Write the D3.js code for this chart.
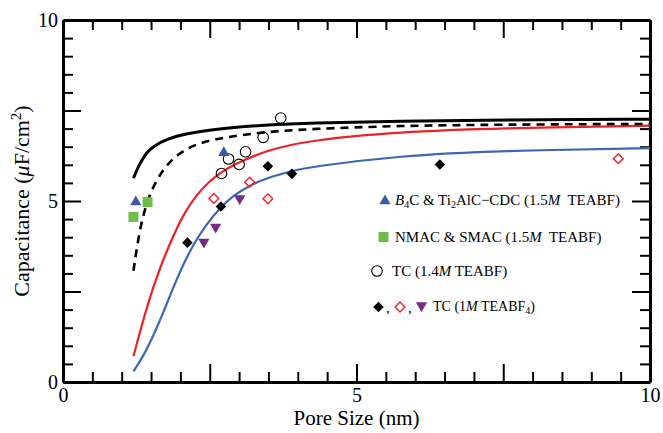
<!DOCTYPE html>
<html>
<head>
<meta charset="utf-8">
<script src="https://cdn.jsdelivr.net/npm/d3@7"></script>
<style>
  body { margin: 0; background: #fff; }
  svg { font-family: "Liberation Serif", "Times New Roman", serif; }
</style>
</head>
<body>
<svg id="chart" width="663" height="433"></svg>
<script>
// model curves as [pore size nm, capacitance]
var solidCurve = [[1.2,5.63],[1.31,6.05],[1.42,6.33],[1.54,6.51],[1.76,6.71],[2.1,6.86],[2.44,6.95],
  [2.9,7.03],[3.46,7.1],[4.2,7.15],[5.73,7.21],[7.43,7.24],[10,7.26]];
var dashedCurve = [[1.2,3.07],[1.32,4.38],[1.48,5.23],[1.68,5.82],[1.88,6.19],[2.1,6.44],[2.33,6.6],
  [2.61,6.71],[2.89,6.79],[3.46,6.91],[4.2,6.99],[5.73,7.08],[7.43,7.11],[10,7.13]];
var redCurve = [[1.2,0.71],[1.37,1.74],[1.54,2.65],[1.71,3.39],[1.88,4.05],[2.05,4.62],[2.27,5.17],
  [2.5,5.55],[2.67,5.77],[2.9,6.0],[3.46,6.4],[4.2,6.68],[5.73,6.91],[7.43,7.01],[10,7.08]];
var blueCurve = [[1.2,0.29],[1.37,0.72],[1.54,1.28],[1.71,1.92],[1.88,2.62],[2.05,3.25],[2.22,3.8],
  [2.44,4.35],[2.67,4.8],[2.9,5.15],[3.18,5.43],[3.46,5.63],[3.9,5.83],[4.2,5.94],[5.73,6.25],
  [7.43,6.39],[10,6.46]];

// measured points
var b4cPts = [[1.24,4.97],[2.74,6.33]];
var nmacPts = [[1.2,4.56],[1.44,4.97]];
var tc14Pts = [[2.7,5.76],[2.82,6.16],[3.0,6.01],[3.11,6.36],[3.41,6.76],[3.71,7.29]];
var tcBlackPts = [[2.12,3.85],[2.69,4.85],[3.49,5.96],[3.9,5.75],[6.42,6.01]];
var tcRedPts = [[2.57,5.07],[3.18,5.52],[3.49,5.06],[9.46,6.17]];
var tcPurplePts = [[2.4,3.87],[2.6,4.28],[3.01,5.07]];

var tickValues = d3.range(0, 10.001, 0.5);
var labelValues = [0, 5, 10];

(function() {
var svg = d3.select("#chart");
var pLeft = 63, pRight = 650, pTop = 20, pBottom = 382;

var x = d3.scaleLinear().domain([0, 10]).range([pLeft, pRight]);
var y = d3.scaleLinear().domain([0, 10]).range([pBottom, pTop]);

var blue = "#3d68b1", red = "#ec2227", purple = "#7a2a86", green = "#6cbd4a", triBlue = "#3b58a5";

function isMajor(v) { return Math.abs(v / 2.5 - Math.round(v / 2.5)) < 1e-6; }
function fmt(v) { return labelValues.indexOf(v) >= 0 ? v : ""; }

function styleAxis(g, horizontal, sign) {
  g.select(".domain").attr("stroke", "#000").attr("stroke-width", 3);
  g.selectAll(".tick line")
    .attr("stroke", "#000").attr("stroke-width", 2)
    .attr(horizontal ? "y2" : "x2", function(d) { return sign * (isMajor(d) ? 18 : 10); });
  g.selectAll(".tick text").attr("font-size", 20).attr("fill", "#000")
    .attr("font-family", "Liberation Serif, serif");
}

svg.append("g").attr("transform", "translate(0," + pBottom + ")")
  .call(d3.axisBottom(x).tickValues(tickValues).tickSizeInner(-10).tickSizeOuter(0).tickPadding(6).tickFormat(fmt))
  .call(styleAxis, true, -1);
svg.append("g").attr("transform", "translate(0," + pTop + ")")
  .call(d3.axisTop(x).tickValues(tickValues).tickSizeInner(-10).tickSizeOuter(0).tickFormat(""))
  .call(styleAxis, true, 1);
svg.append("g").attr("transform", "translate(" + pLeft + ",0)")
  .call(d3.axisLeft(y).tickValues(tickValues).tickSizeInner(-10).tickSizeOuter(0).tickPadding(5).tickFormat(fmt))
  .call(styleAxis, false, 1);
svg.append("g").attr("transform", "translate(" + pRight + ",0)")
  .call(d3.axisRight(y).tickValues(tickValues).tickSizeInner(-10).tickSizeOuter(0).tickFormat(""))
  .call(styleAxis, false, -1);

// axis titles
svg.append("text").attr("x", (pLeft + pRight) / 2).attr("y", 425)
  .attr("text-anchor", "middle").attr("font-size", 21).text("Pore Size (nm)");
var yt = svg.append("text").attr("transform", "translate(29," + (pTop + pBottom) / 2 + ") rotate(-90)")
  .attr("text-anchor", "middle").attr("font-size", 22);
yt.append("tspan").text("Capacitance (");
yt.append("tspan").attr("font-style", "italic").text("\u03bc");
yt.append("tspan").text("F/cm");
yt.append("tspan").attr("dy", -8).attr("font-size", 15).text("2");
yt.append("tspan").attr("dy", 8).text(")");

// curves
var line = d3.line().x(function(d) { return x(d[0]); }).y(function(d) { return y(d[1]); })
  .curve(d3.curveBasis);
var plot = svg.append("g");
plot.append("path").datum(blueCurve).attr("d", line)
  .attr("fill", "none").attr("stroke", blue).attr("stroke-width", 2.2);
plot.append("path").datum(redCurve).attr("d", line)
  .attr("fill", "none").attr("stroke", red).attr("stroke-width", 2.2);
plot.append("path").datum(dashedCurve).attr("d", line)
  .attr("fill", "none").attr("stroke", "#000").attr("stroke-width", 2.6).attr("stroke-dasharray", "8,6");
plot.append("path").datum(solidCurve).attr("d", line)
  .attr("fill", "none").attr("stroke", "#000").attr("stroke-width", 3);

// symbols
var tri = d3.symbol().type(d3.symbolTriangle).size(55);
var sq = d3.symbol().type(d3.symbolSquare).size(100);
var dia = d3.symbol().type(d3.symbolSquare).size(56);
var diaOpen = d3.symbol().type(d3.symbolSquare).size(48);

function pts(data, path, rot, fill, stroke, sw) {
  plot.selectAll(null).data(data).enter().append("path")
    .attr("d", path)
    .attr("transform", function(d) { return "translate(" + x(d[0]) + "," + y(d[1]) + ") rotate(" + rot + ")"; })
    .attr("fill", fill).attr("stroke", stroke || "none").attr("stroke-width", sw || 0);
}

plot.selectAll(null).data(tc14Pts).enter().append("circle")
  .attr("cx", function(d) { return x(d[0]); }).attr("cy", function(d) { return y(d[1]); })
  .attr("r", 5.3).attr("fill", "none").attr("stroke", "#000").attr("stroke-width", 1.1);
pts(b4cPts, tri, 0, triBlue);
pts(nmacPts, sq, 0, green);
pts(tcBlackPts, dia, 45, "#000");
pts(tcRedPts, diaOpen, 45, "none", red, 1.4);
pts(tcPurplePts, tri, 180, purple);

// legend
var leg = svg.append("g").attr("font-size", 15).attr("fill", "#000");
function legSym(path, px, py, rot, fill, stroke, sw) {
  leg.append("path").attr("d", path)
    .attr("transform", "translate(" + px + "," + py + ") rotate(" + rot + ")")
    .attr("fill", fill).attr("stroke", stroke || "none").attr("stroke-width", sw || 0);
}
legSym(tri, 385, 201, 0, triBlue);
var t1 = leg.append("text").attr("x", 395).attr("y", 205);
t1.append("tspan").attr("font-style", "italic").text("B");
t1.append("tspan").attr("dy", 3).attr("font-size", 10).text("4");
t1.append("tspan").attr("dy", -3).text("C & Ti");
t1.append("tspan").attr("dy", 3).attr("font-size", 10).text("2");
t1.append("tspan").attr("dy", -3).text("AlC\u2212CDC (1.5");
t1.append("tspan").attr("font-style", "italic").text("M");
t1.append("tspan").text("\u00a0 TEABF)");

legSym(sq, 383.5, 237, 0, green);
var t2 = leg.append("text").attr("x", 395).attr("y", 242);
t2.append("tspan").text("NMAC & SMAC (1.5");
t2.append("tspan").attr("font-style", "italic").text("M");
t2.append("tspan").text("\u00a0 TEABF)");

leg.append("circle").attr("cx", 377).attr("cy", 271).attr("r", 5.3)
  .attr("fill", "none").attr("stroke", "#000").attr("stroke-width", 1.1);
var t3 = leg.append("text").attr("x", 392).attr("y", 276);
t3.append("tspan").text("TC (1.4");
t3.append("tspan").attr("font-style", "italic").text("M");
t3.append("tspan").text(" TEABF)");

legSym(dia, 378.5, 307, 45, "#000");
leg.append("text").attr("x", 386).attr("y", 313).text(",");
legSym(diaOpen, 400, 307, 45, "none", red, 1.4);
leg.append("text").attr("x", 408).attr("y", 313).text(",");
legSym(tri, 421.5, 305.5, 180, purple);
var t4 = leg.append("text").attr("x", 433).attr("y", 311).attr("font-size", 14);
t4.append("tspan").text("TC (1");
t4.append("tspan").attr("font-style", "italic").text("M");
t4.append("tspan").text(" TEABF");
t4.append("tspan").attr("dy", 3).attr("font-size", 10).text("4");
t4.append("tspan").attr("dy", -3).text(")");
})();
</script>
</body>
</html>
